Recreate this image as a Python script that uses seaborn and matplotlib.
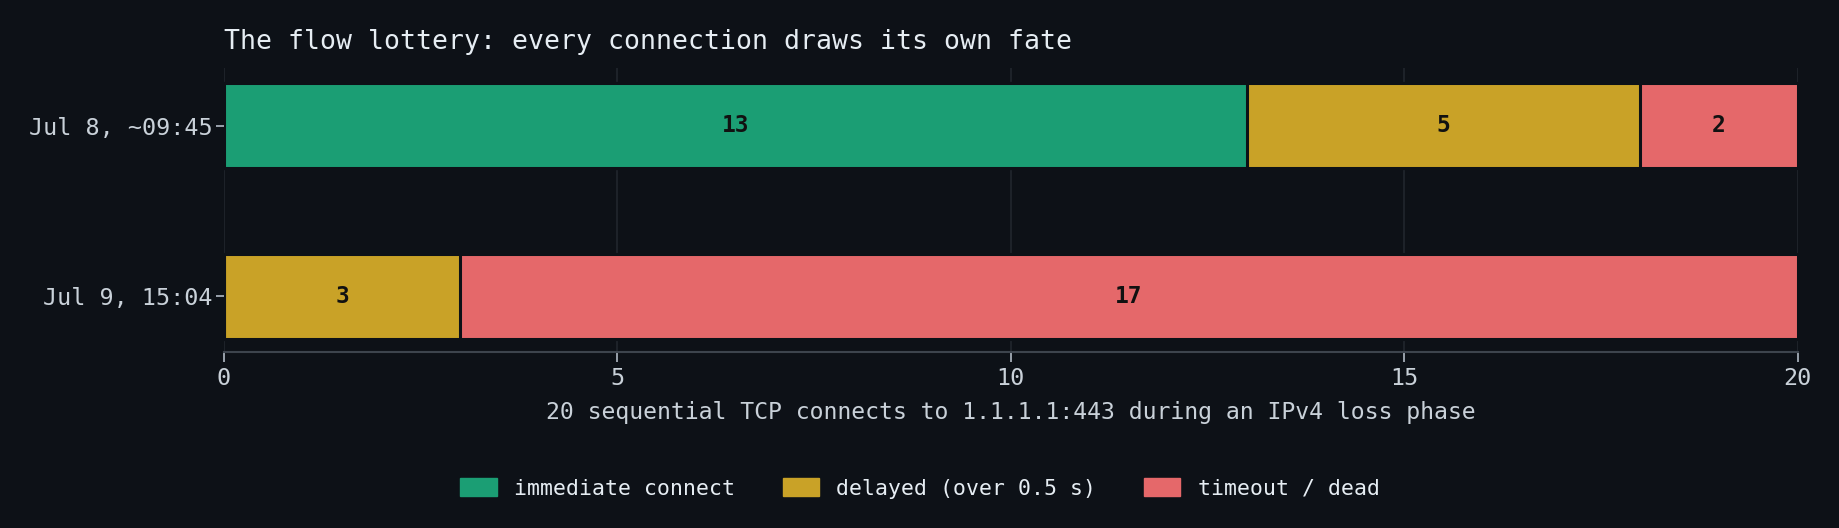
import matplotlib
matplotlib.use("Agg")
import matplotlib.pyplot as plt
from matplotlib.patches import Patch
import seaborn as sns
import numpy as np
import pandas as pd

# Data
runs = ["Jul 8, ~09:45", "Jul 9, 15:04"]
immediate = [13, 0]
delayed = [5, 3]
timeout = [2, 17]
outcome_names = ["immediate connect", "delayed (over 0.5 s)", "timeout / dead"]

# Colours
BG = "#0d1117"
TEXT = "#c9d1d9"
TITLE = "#e6edf3"
GRID = "#21262d"
SPINE = "#3d444d"
palette = ["#1b9e74", "#c9a227", "#e5686a"]

sns.set_theme(style="dark")
plt.rcParams["font.family"] = ["DejaVu Sans Mono", "DejaVu Sans"]

fig, ax = plt.subplots(figsize=(18.4, 5.28), dpi=100)
fig.patch.set_facecolor(BG)
ax.set_facecolor(BG)

segments = np.array([immediate, delayed, timeout])
cum = np.cumsum(segments, axis=0)

# Stacked bars: draw cumulative totals, longest first, so each segment shows
for i in range(len(segments) - 1, -1, -1):
    df = pd.DataFrame({"run": runs, "value": cum[i]})
    sns.barplot(
        data=df, x="value", y="run", orient="h", color=palette[i],
        width=0.5, edgecolor=BG, linewidth=2.2, saturation=1, ax=ax, zorder=3,
    )

# Segment counts
for i in range(len(segments)):
    for j in range(len(runs)):
        v = segments[i][j]
        if v > 0:
            ax.text(cum[i][j] - v / 2, j, str(v), ha="center", va="center",
                    fontsize=16.5, fontweight="bold", color="#111111", zorder=4)

ax.set_xlim(0, 20)
ax.set_ylim(1.33, -0.34)
ax.set_xticks([0, 5, 10, 15, 20])
ax.set_ylabel("")
ax.set_xlabel("20 sequential TCP connects to 1.1.1.1:443 during an IPv4 loss phase",
              fontsize=16.7, color=TEXT, labelpad=8)
ax.set_title("The flow lottery: every connection draws its own fate",
             loc="left", fontsize=19.1, color=TITLE, pad=14)

ax.tick_params(axis="both", labelsize=16.8, colors="#b1bac4", labelcolor=TEXT)
ax.tick_params(axis="x", length=7, width=1.2, bottom=True)
ax.tick_params(axis="y", length=6, width=1.2, pad=2, left=True)

ax.grid(axis="x", color=GRID, linewidth=1.2, zorder=0)
ax.grid(axis="y", visible=False)
for side in ["top", "right", "left"]:
    ax.spines[side].set_visible(False)
ax.spines["bottom"].set_color(SPINE)
ax.spines["bottom"].set_linewidth(1.5)

handles = [Patch(facecolor=c, edgecolor=c) for c in palette]
leg = fig.legend(handles, outcome_names, loc="center", bbox_to_anchor=(0.5, 0.075),
                 ncol=3, frameon=False, fontsize=15.5, handlelength=1.7,
                 handleheight=0.9, columnspacing=2.2, handletextpad=0.8)
for t in leg.get_texts():
    t.set_color("#e6edf3")

fig.subplots_adjust(left=0.1217, right=0.977, top=0.871, bottom=0.333)
fig.savefig("out.png", dpi=100, facecolor=BG)
